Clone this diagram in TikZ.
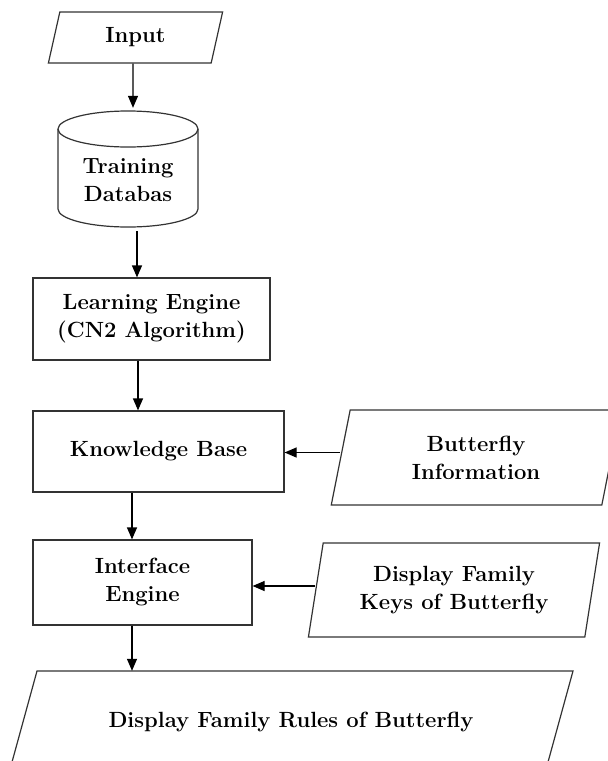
\documentclass[tikz,border=0pt]{standalone}
\usepackage{fontspec}
\usetikzlibrary{shapes.geometric,arrows.meta}
\begin{document}
\begin{tikzpicture}[x=1pt,y=-1pt,
  txt/.style={font=\bfseries\fontsize{22}{28}\selectfont, align=center, text=black},
  box/.style={txt, draw=black!80, line width=1.2pt, rectangle, inner sep=0pt},
  para/.style={txt, draw=black!80, line width=1.2pt, shape=trapezium,
    trapezium stretches=true, inner sep=0pt},
  outline/.style={draw=black!80, line width=1.2pt},
  arr/.style={-{Triangle[length=12pt,width=10pt]}, line width=1.2pt, black}]
\useasboundingbox (0,0) rectangle (608,761);
\clip (0,0) rectangle (608,761);

% Input
\node[para, minimum width=175, minimum height=51,
  trapezium left angle=76.8, trapezium right angle=103.2] (in) at (135.5,37.5) {\raisebox{-4pt}{Input}};

% Training database cylinder
\node[minimum width=140, minimum height=116, inner sep=0pt] (db) at (128,169) {};
\draw[outline, fill=white]
  (58,129) -- (58,209) arc[start angle=180, end angle=360, x radius=70, y radius=-18]
  -- (198,129);
\draw[outline] (128,129) ellipse [x radius=70, y radius=18];
\node[txt] (dbt) at (128,180.5) {Training\\Databas};

% Learning engine
\node[box, minimum width=237, minimum height=82] (le) at (151.5,319) {Learning Engine\\(CN2 Algorithm)};

% Knowledge base
\node[box, minimum width=251, minimum height=81] (kb) at (158.5,451.5) {Knowledge Base};

% Interface engine
\node[box, minimum width=219, minimum height=85] (ie) at (142.5,582.5) {Interface\\Engine};

% Butterfly information
\node[para, minimum width=290, minimum height=95,
  trapezium left angle=77.5, trapezium right angle=102.5] (bi) at (476,457.5) {Butterfly\\Information};

% Display family keys
\node[para, minimum width=292, minimum height=94,
  trapezium left angle=77.4, trapezium right angle=102.6] (dfk) at (454,590) {Display Family\\Keys of Butterfly};

% Display family rules (runs off the bottom edge)
\draw[outline] (37,671) -- (573,671) -- (545,773) -- (9,773) -- cycle;
\node[txt, minimum width=536, minimum height=102, inner sep=0pt] (dfr) at (291,722) {Display Family Rules of Butterfly};

% connectors
\draw[arr] ([xshift=-2.5pt]in.south) -- ([xshift=5pt,yshift=3pt]db.north);
\draw[arr] ([xshift=9pt,yshift=-4pt]db.south) -- ([xshift=-14.5pt]le.north);
\draw[arr] ([xshift=-13.5pt]le.south) -- ([xshift=-20.5pt]kb.north);
\draw[arr] ([xshift=-26.5pt]kb.south) -- ([xshift=-10.5pt]ie.north);
\draw[arr] ([xshift=-10.5pt]ie.south) -- ([xshift=-159pt]dfr.north);
\coordinate (biA) at ([yshift=5pt]bi.west);
\draw[arr] (biA) -- (biA -| kb.east);
\coordinate (dfkA) at ([yshift=4pt]dfk.west);
\draw[arr] (dfkA) -- (dfkA -| ie.east);
\end{tikzpicture}
\end{document}
